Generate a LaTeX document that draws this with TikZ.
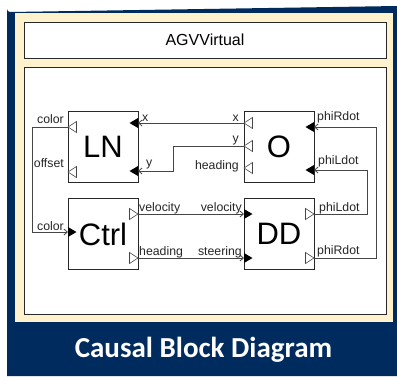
\documentclass[tikz,border=0pt]{standalone}
\usepackage{fontspec}
\setmainfont{Liberation Sans}
\newfontfamily\titlefont{Carlito}
\usetikzlibrary{arrows.meta}
\definecolor{navy}{RGB}{0,43,94}
\definecolor{cream}{RGB}{255,242,204}
\definecolor{wire}{RGB}{70,70,70}
\definecolor{edge}{RGB}{40,40,40}
\tikzset{
  frame/.style={draw=edge, line width=0.9pt, fill=white, inner sep=0pt},
  block/.style={draw=edge, line width=0.8pt, fill=white, inner sep=0pt,
    minimum width=70pt, minimum height=71pt, font=\fontsize{31}{34}\selectfont},
  lbl/.style={inner sep=0pt, font=\fontsize{12.3}{14}\selectfont, text=black!85},
  wireline/.style={draw=wire, line width=0.8pt},
  arr/.style={wireline, -{Straight Barb[length=3.5pt,width=6pt]}},
  outL/.pic={\draw[draw=wire, line width=0.6pt, fill=white] (0,0) -- (8.5,-5.5) -- (8.5,5.5) -- cycle;},
  outR/.pic={\draw[draw=wire, line width=0.6pt, fill=white] (0,0) -- (-8.5,-5.5) -- (-8.5,5.5) -- cycle;},
  inL/.pic={\fill[black] (0,-5) -- (-8.5,0) -- (0,5) -- cycle;},
  inR/.pic={\fill[black] (0,-5) -- (8.5,0) -- (0,5) -- cycle;},
}
\begin{document}
\begin{tikzpicture}[x=1pt,y=-1pt]
\useasboundingbox (0,0) rectangle (397,376);
% background frame
\fill[navy] (7,376) -- (7,9) arc[start angle=180,end angle=90,radius=3] -- (397,6) -- (397,376) -- cycle;
\fill[cream] (15,13) rectangle (393,322);
\node[frame, minimum width=362pt, minimum height=36pt, font=\fontsize{16}{18}\selectfont] (agv) at (205,40) {AGVVirtual};
\node[frame, minimum width=362pt, minimum height=247pt] (main) at (205,190.5) {};
% blocks
\node[block] (LN) at (103,146.5) {LN};
\node[block] (O) at (279,146.5) {O};
\node[block] (Ctrl) at (103,234) {Ctrl};
\node[block] (DD) at (279,234) {DD};
% port coordinates
\coordinate (LNc) at (68,127);
\coordinate (LNo) at (68,172);
\coordinate (LNx) at (138,123);
\coordinate (LNy) at (138,171);
\coordinate (Ox) at (244,123);
\coordinate (Oy) at (244,146);
\coordinate (Oh) at (244,168);
\coordinate (OR) at (314,127);
\coordinate (OL) at (314,170);
\coordinate (Cc) at (68,232);
\coordinate (Cv) at (138,214);
\coordinate (Ch) at (138,258);
\coordinate (Dv) at (244,214);
\coordinate (Ds) at (244,258);
\coordinate (DL) at (314,214);
\coordinate (DR) at (314,258);
% connectors
\draw[arr] (Ox) -- (LNx);
\draw[arr] (Oy) -- (173,146) |- (LNy);
\draw[arr] (LNc) -- (32,127) |- (Cc);
\draw[arr] (Cv) -- (Dv);
\draw[arr] (Ch) -- (Ds);
\draw[arr] (DL) -- (367,214) |- (OL);
\draw[arr] (DR) -- (376,258) |- (OR);
% ports
\pic at (LNc) {outL};
\pic at (LNo) {outL};
\pic at (LNx) {inL};
\pic at (LNy) {inL};
\pic at (Ox) {outL};
\pic at (Oy) {outL};
\pic at (Oh) {outL};
\pic at (OR) {inL};
\pic at (OL) {inL};
\pic at (Cc) {inR};
\pic at (Cv) {outR};
\pic at (Ch) {outR};
\pic at (Dv) {inR};
\pic at (Ds) {inR};
\pic at (DL) {outR};
\pic at (DR) {outR};
% labels
\node[lbl, anchor=base east] (lLNc) at (64,123) {color};
\node[lbl, anchor=base east] (lLNo) at (64,167) {offset};
\node[lbl, anchor=base west] (lLNx) at (142,121) {x};
\node[lbl, anchor=base west] (lLNy) at (146,166) {y};
\node[lbl, anchor=base east] (lOx) at (239,121) {x};
\node[lbl, anchor=base east] (lOy) at (239,142) {y};
\node[lbl, anchor=base east] (lOh) at (239,169) {heading};
\node[lbl, anchor=base west] (lOR) at (317,120) {phiRdot};
\node[lbl, anchor=base west] (lOL) at (318,164) {phiLdot};
\node[lbl, anchor=base east] (lCc) at (64,230) {color};
\node[lbl, anchor=base west] (lCv) at (139,211) {velocity};
\node[lbl, anchor=base west] (lCh) at (139,255) {heading};
\node[lbl, anchor=base east] (lDv) at (242,211) {velocity};
\node[lbl, anchor=base east] (lDs) at (242,255) {steering};
\node[lbl, anchor=base west] (lDL) at (319,211) {phiLdot};
\node[lbl, anchor=base west] (lDR) at (317,254) {phiRdot};
% title
\node[inner sep=0pt, text=white, font=\titlefont\bfseries\fontsize{29}{32}\selectfont] (title) at (203.5,350) {Causal Block Diagram};
\end{tikzpicture}
\end{document}
